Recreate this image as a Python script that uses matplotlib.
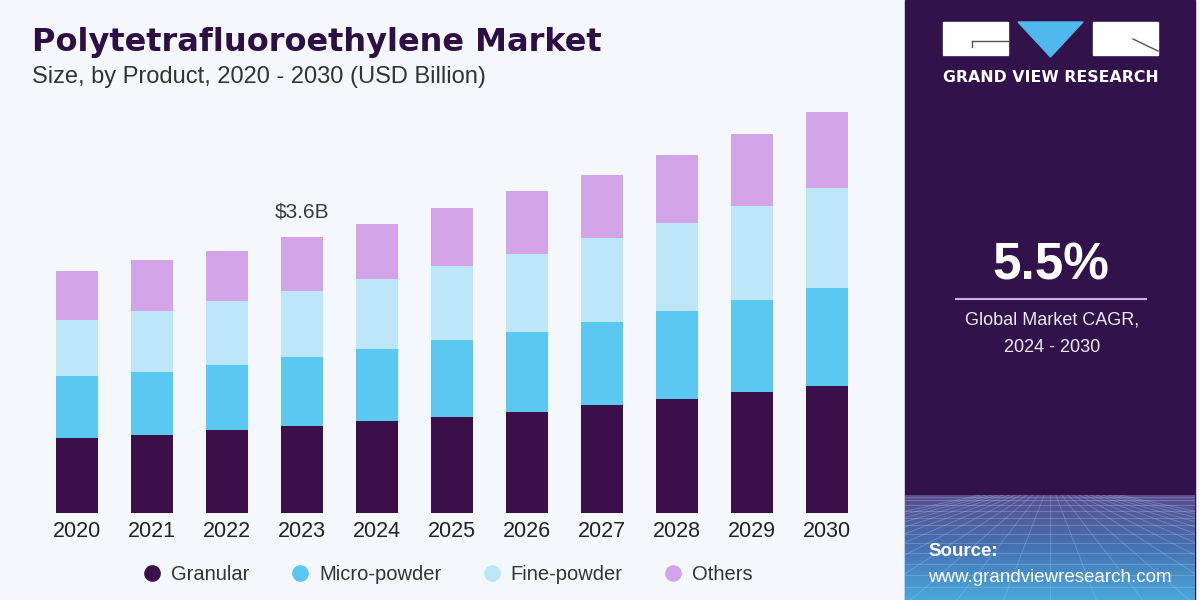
import numpy as np
import matplotlib
matplotlib.use("Agg")
import matplotlib.pyplot as plt
from matplotlib.patches import Rectangle, Polygon
from matplotlib.lines import Line2D
from matplotlib.colors import LinearSegmentedColormap

# data (USD Billion)
years = ["2020", "2021", "2022", "2023", "2024", "2025", "2026", "2027", "2028", "2029", "2030"]
granular = [0.98, 1.02, 1.08, 1.13, 1.20, 1.25, 1.32, 1.40, 1.48, 1.57, 1.66]
micro_powder = [0.81, 0.82, 0.85, 0.91, 0.94, 1.01, 1.04, 1.09, 1.15, 1.21, 1.28]
fine_powder = [0.73, 0.79, 0.84, 0.86, 0.92, 0.96, 1.02, 1.10, 1.16, 1.23, 1.31]
others = [0.64, 0.67, 0.65, 0.70, 0.72, 0.76, 0.82, 0.83, 0.89, 0.94, 0.99]
series_names = ["Granular", "Micro-powder", "Fine-powder", "Others"]
colors = ["#3B0F4A", "#5BC8F2", "#BDE7F8", "#D3A5E8"]
callout_year = "2023"
callout_text = "$3.6B"

bg = "#F4F7FB"
panel = "#32124A"
W, H = 1200, 600

plt.rcParams['font.family'] = ['Liberation Sans', 'DejaVu Sans']

fig = plt.figure(figsize=(12, 6), dpi=100, facecolor=bg)

# main chart
ax = fig.add_axes([39.5 / W, 87.5 / H, 825 / W, 420.4 / H])
ax.set_facecolor(bg)
x = np.arange(len(years))
bottom = np.zeros(len(years))
for vals, c in zip([granular, micro_powder, fine_powder, others], colors):
    ax.bar(x, vals, bottom=bottom, width=0.573, color=c, linewidth=0)
    bottom += np.array(vals)
ax.set_xlim(-0.5, len(years) - 0.5)
ax.set_ylim(0, 5.5)
ax.set_xticks(x)
ax.set_xticklabels(years, fontsize=15.5, color="#222222")
ax.tick_params(axis="x", length=0, pad=6)
ax.set_yticks([])
for s in ax.spines.values():
    s.set_visible(False)

i = years.index(callout_year)
ax.annotate(callout_text, (x[i], bottom[i]), xytext=(0, 25), textcoords="offset pixels",
            ha="center", va="center", fontsize=15, color="#3A3A3A")

# title
fig.text(32 / W, 1 - 51 / H, "Polytetrafluoroethylene Market", fontsize=23, weight="bold",
         color="#2E0F45", family="DejaVu Sans", va="baseline")
fig.text(32 / W, 1 - 83 / H, "Size, by Product, 2020 - 2030 (USD Billion)", fontsize=17,
         color="#333333", va="baseline")

# legend
handles = [Line2D([], [], marker="o", linestyle="none", markersize=11, color=c) for c in colors]
leg = fig.legend(handles, series_names, loc="center left", bbox_to_anchor=(144 / W, 1 - 575 / H),
                 ncol=4, frameon=False, fontsize=14.5, handlelength=0.8, handletextpad=0.55,
                 columnspacing=2.1, borderpad=0, borderaxespad=0)
for t in leg.get_texts():
    t.set_color("#333333")

# right panel
fig.add_artist(Rectangle((905 / W, 0), 290 / W, 1, transform=fig.transFigure, color=panel, zorder=0))

# gradient grid at the bottom of the panel
gax = fig.add_axes([905 / W, 0, 290 / W, 105 / H])
cmap = LinearSegmentedColormap.from_list("g", ["#4AA8DC", "#4672B2", "#5B4D8E"])
grad = np.linspace(0, 1, 200).reshape(-1, 1)
gax.imshow(grad, aspect="auto", cmap=cmap, extent=[0, 1, 0, 1], origin="lower")
for k in range(1, 14):
    yy = 1 - (k / 13) ** 1.6
    gax.plot([0, 1], [yy, yy], color="#A9CFF2", lw=0.6, alpha=0.35)
for k in range(-12, 13):
    gax.plot([0.5 + k * 0.02, 0.5 + k * 0.16], [1, 0], color="#A9CFF2", lw=0.6, alpha=0.35)
gax.set_xlim(0, 1)
gax.set_ylim(0, 1)
gax.axis("off")

# logo
fig.add_artist(Rectangle((943 / W, 1 - 55 / H), 65 / W, 33 / H, transform=fig.transFigure,
                         color="white"))
fig.add_artist(Rectangle((1093 / W, 1 - 55 / H), 65 / W, 33 / H, transform=fig.transFigure,
                         color="white"))
fig.add_artist(Polygon([(1018 / W, 1 - 22 / H), (1083 / W, 1 - 22 / H), (1050.5 / W, 1 - 57 / H)],
                       closed=True, transform=fig.transFigure, color="#4FB8EC"))
fig.add_artist(Line2D([972 / W, 1008 / W], [1 - 41 / H, 1 - 41 / H], transform=fig.transFigure,
                      color="#555555", lw=1))
fig.add_artist(Line2D([972 / W, 972 / W], [1 - 41 / H, 1 - 47 / H], transform=fig.transFigure,
                      color="#555555", lw=1))
fig.add_artist(Line2D([1133 / W, 1158 / W], [1 - 39 / H, 1 - 51 / H], transform=fig.transFigure,
                      color="#555555", lw=1))
fig.text(1050.5 / W, 1 - 78 / H, "GRAND VIEW RESEARCH", fontsize=11.3, weight="bold",
         color="white", family="DejaVu Sans", ha="center", va="center")

# CAGR
fig.text(1051 / W, 1 - 266 / H, "5.5%", fontsize=37, weight="bold", color="white",
         ha="center", va="center")
fig.add_artist(Line2D([956 / W, 1146 / W], [1 - 299 / H, 1 - 299 / H], transform=fig.transFigure,
                      color="#C8B5DC", lw=1.5))
fig.text(1052 / W, 1 - 320 / H, "Global Market CAGR,", fontsize=13, color="#EEE8F5",
         ha="center", va="center")
fig.text(1052 / W, 1 - 347 / H, "2024 - 2030", fontsize=13, color="#EEE8F5",
         ha="center", va="center")

# source
fig.text(928 / W, 1 - 551 / H, "Source:", fontsize=13.5, weight="bold", color="white", va="center")
fig.text(928 / W, 1 - 577 / H, "www.grandviewresearch.com", fontsize=13.5, color="white",
         va="center")

fig.savefig("out.png", dpi=100, facecolor=bg)
